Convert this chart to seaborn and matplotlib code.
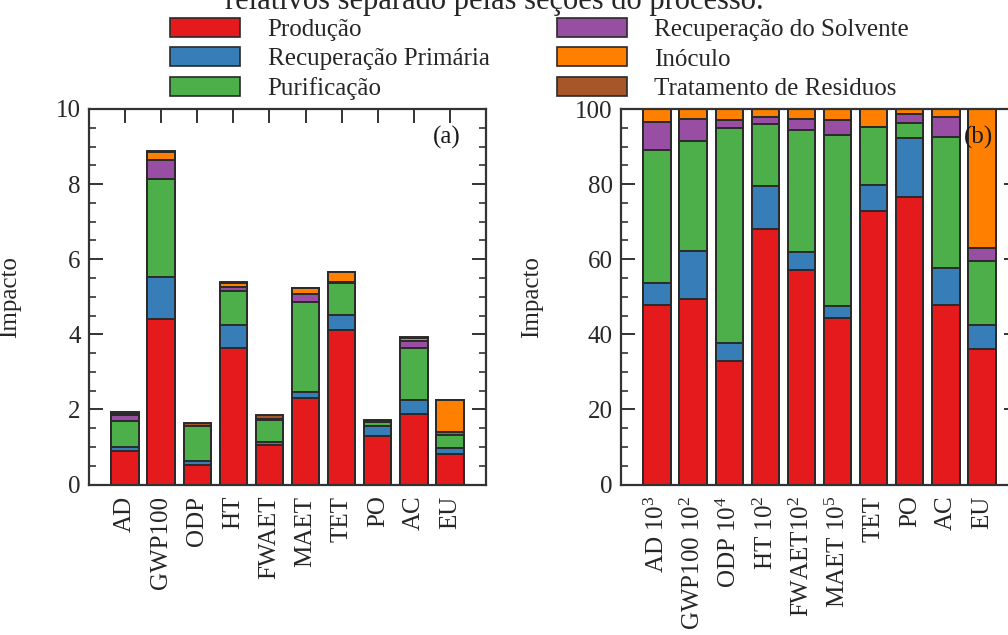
import numpy as np
import pandas as pd
import matplotlib
matplotlib.use('Agg')
import matplotlib.pyplot as plt
from matplotlib.patches import Patch
from matplotlib.ticker import MultipleLocator
import seaborn as sns

# categorias e series
cat_a = ['AD', 'GWP100', 'ODP', 'HT', 'FWAET', 'MAET', 'TET', 'PO', 'AC', 'EU']
cat_b = ['AD 10$^{\\mathrm{3}}$', 'GWP100 10$^{\\mathrm{2}}$', 'ODP 10$^{\\mathrm{4}}$',
         'HT 10$^{\\mathrm{2}}$', 'FWAET10$^{\\mathrm{2}}$', 'MAET 10$^{\\mathrm{5}}$',
         'TET', 'PO', 'AC', 'EU']
secoes = ['Produção', 'Recuperação Primária', 'Purificação',
          'Recuperação do Solvente', 'Inóculo', 'Tratamento de Residuos']

# (a) impacto absoluto por secao
producao_a = [0.90, 4.40, 0.53, 3.64, 1.04, 2.31, 4.11, 1.30, 1.87, 0.81]
rec_prim_a = [0.11, 1.12, 0.09, 0.62, 0.08, 0.16, 0.40, 0.27, 0.38, 0.15]
purif_a = [0.69, 2.61, 0.93, 0.89, 0.61, 2.38, 0.85, 0.09, 1.39, 0.37]
rec_solv_a = [0.15, 0.50, 0.01, 0.12, 0.01, 0.21, 0.02, 0.01, 0.18, 0.07]
inoculo_a = [0.03, 0.23, 0.01, 0.09, 0.01, 0.16, 0.27, 0.01, 0.09, 0.85]
trat_a = [0.04, 0.02, 0.07, 0.02, 0.09, 0.02, 0.01, 0.04, 0.02, 0.00]

# (b) contribuicao relativa (%)
producao_b = [47.8, 49.5, 32.9, 68.0, 57.1, 44.4, 72.9, 76.6, 47.8, 36.2]
rec_prim_b = [5.8, 12.8, 4.9, 11.6, 4.8, 3.1, 6.9, 15.6, 9.8, 6.3]
purif_b = [35.5, 29.3, 57.2, 16.3, 32.5, 45.6, 15.3, 4.0, 34.9, 17.0]
rec_solv_b = [7.5, 5.7, 2.1, 2.0, 2.9, 4.0, 0.1, 2.5, 5.4, 3.6]
inoculo_b = [3.4, 2.7, 2.9, 2.1, 2.7, 2.9, 4.8, 1.3, 2.1, 36.9]
trat_b = [0.0, 0.0, 0.0, 0.0, 0.0, 0.0, 0.0, 0.0, 0.0, 0.0]

sns.set_style('ticks')
plt.rcParams['font.family'] = ['Liberation Serif', 'DejaVu Serif']
plt.rcParams['mathtext.fontset'] = 'custom'
plt.rcParams['mathtext.rm'] = 'Liberation Serif'
plt.rcParams['mathtext.it'] = 'Liberation Serif:italic'

cores = sns.color_palette('Set1', 7)
cores = [cores[0], cores[1], cores[2], cores[3], cores[4], cores[6]]
borda = '#2a2a2a'
spine_c = '#333333'

fig = plt.figure(figsize=(10.08, 6.35), dpi=100)
ax_a = fig.add_axes([89 / 1008, 1 - 484.5 / 635, 397 / 1008, 375.5 / 635])
ax_b = fig.add_axes([621 / 1008, 1 - 484.5 / 635, 397 / 1008, 375.5 / 635])


def empilhar(ax, nomes, series):
    df = pd.DataFrame(dict(zip(secoes, series)), index=range(len(nomes)))
    acum = df.cumsum(axis=1)
    # desenha do topo para a base
    for i in range(len(secoes) - 1, -1, -1):
        sns.barplot(x=list(range(len(nomes))), y=acum[secoes[i]].values, color=cores[i],
                    saturation=1, width=0.76, edgecolor=borda, linewidth=1.4,
                    ax=ax, order=list(range(len(nomes))))


empilhar(ax_a, cat_a, [producao_a, rec_prim_a, purif_a, rec_solv_a, inoculo_a, trat_a])
empilhar(ax_b, cat_b, [producao_b, rec_prim_b, purif_b, rec_solv_b, inoculo_b, trat_b])

for ax, nomes, ymax, maj, mnr, tag in [(ax_a, cat_a, 10, 2, 0.5, '(a)'),
                                        (ax_b, cat_b, 100, 20, 5, '(b)')]:
    ax.set_xlim(-1, 10)
    ax.set_ylim(0, ymax)
    ax.set_xticks(range(len(nomes)))
    ax.set_xticklabels(nomes, rotation=90, fontsize=18)
    ax.yaxis.set_major_locator(MultipleLocator(maj))
    ax.yaxis.set_minor_locator(MultipleLocator(mnr))
    ax.tick_params(axis='both', which='major', direction='in', length=10, width=1.4,
                   color=spine_c, top=True, right=True, labelsize=18)
    ax.tick_params(axis='y', which='minor', direction='in', length=5, width=1.2,
                   color=spine_c, right=True, left=True)
    ax.tick_params(axis='y', which='major', pad=6)
    ax.tick_params(axis='x', which='major', pad=8)
    for s in ax.spines.values():
        s.set_visible(True)
        s.set_linewidth(1.6)
        s.set_color(spine_c)
    ax.set_xlabel('')
    ax.set_ylabel('Impacto', fontsize=18)
    ax.text(0.90, 0.925, tag, transform=ax.transAxes, ha='center', va='center',
            fontsize=18, color='#1a1a1a')

ax_a.yaxis.set_label_coords(-0.171, 0.5)
ax_b.yaxis.set_label_coords(-0.196, 0.5)

handles = [Patch(facecolor=c, edgecolor=borda, linewidth=1.2) for c in cores]
fig.legend(handles, secoes, loc='upper left', bbox_to_anchor=(170 / 1008, 1 - 18 / 635),
           ncol=2, frameon=False, fontsize=18, handlelength=2.8, handleheight=0.8,
           handletextpad=1.1, columnspacing=2.7, labelspacing=0.24, borderpad=0,
           borderaxespad=0)

fig.text(494 / 1008, 1 - 9 / 635, 'relativos separado pelas seções do processo.',
         ha='center', va='baseline', fontsize=22)

fig.savefig('out.png', dpi=100)
